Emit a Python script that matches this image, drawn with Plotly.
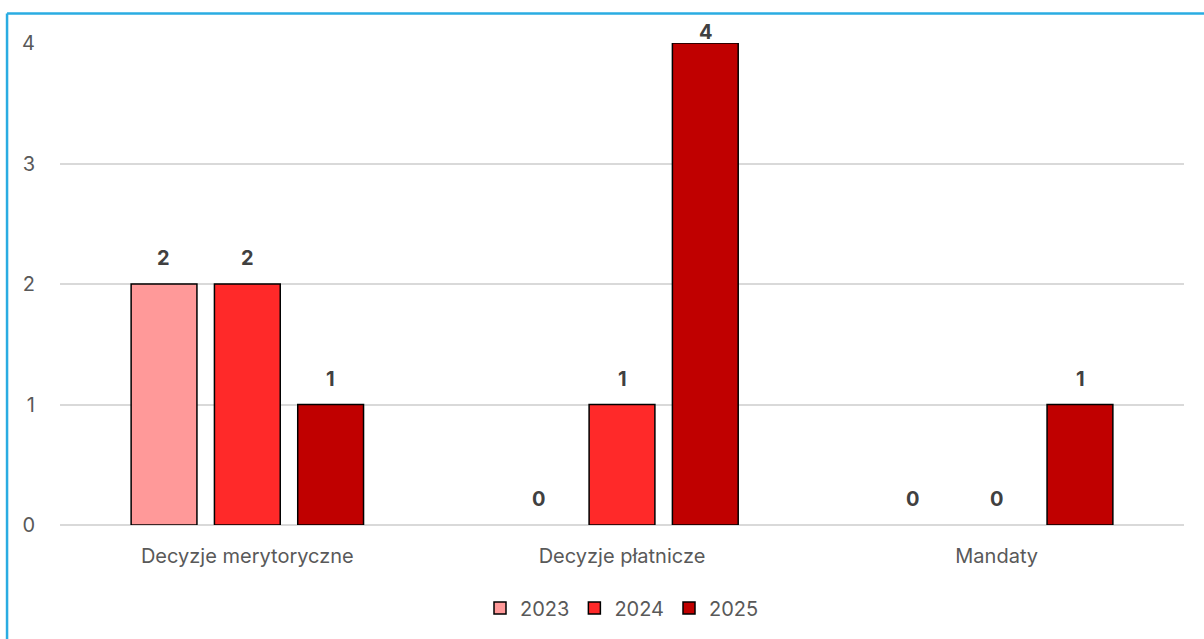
import plotly.graph_objects as go

categories = ["Decyzje merytoryczne", "Decyzje płatnicze", "Mandaty"]
years = ["2023", "2024", "2025"]
values_2023 = [2, 0, 0]
values_2024 = [2, 1, 0]
values_2025 = [1, 4, 1]
colors = ["#FF9999", "#FF2929", "#C00000"]
y_ticks = [0, 1, 2, 3, 4]
y_max = 4

W, H = 1204, 639
ml, mr, mt, mb = 59.5, 19.5, 43, 114
FONT = "Inter"
FS = 20

fig = go.Figure()
series = [values_2023, values_2024, values_2025]
for name, vals, col in zip(years, series, colors):
    fig.add_trace(go.Bar(
        x=categories, y=vals, name=name,
        marker=dict(color=col,
                    line=dict(color="#000000", width=[1.5 if v > 0 else 0 for v in vals])),
        cliponaxis=False,
        offsetgroup=name,
    ))

pw = W - ml - mr
ph = H - mt - mb
unit_px = ph / y_max

# data labels as annotations above each bar (kept inside the chart area at the top)
n = len(years)
for i, (name, vals) in enumerate(zip(years, series)):
    for j, v in enumerate(vals):
        shift = min(26, (y_max - v) * unit_px + 11)
        fig.add_annotation(
            x=categories[j], y=v, text=f"<b>{v}</b>", showarrow=False,
            xshift=(i - (n - 1) / 2) * 83.5, yshift=shift, yanchor="middle",
            font=dict(family=FONT, size=FS, color="#404040"),
        )

def px_x(px):
    return (px - ml) / pw
def px_y(py):
    return (H - mb - py) / ph

fig.add_shape(type="line", xref="paper", yref="paper",
              x0=px_x(6.5), x1=px_x(1210), y0=px_y(13.5), y1=px_y(13.5),
              line=dict(color="#2AACE2", width=2.5))
fig.add_shape(type="line", xref="paper", yref="paper",
              x0=px_x(6.5), x1=px_x(6.5), y0=px_y(13.5), y1=px_y(645),
              line=dict(color="#2AACE2", width=2.5))

fig.update_layout(
    width=W, height=H,
    margin=dict(l=ml, r=mr, t=mt, b=mb, autoexpand=False),
    paper_bgcolor="white", plot_bgcolor="white",
    barmode="group", bargap=0.333, bargroupgap=0.21,
    font=dict(family=FONT, size=FS, color="#595959"),
    showlegend=True,
    legend=dict(orientation="h", x=0.5, xanchor="center", y=px_y(608), yanchor="middle",
                font=dict(family=FONT, size=FS, color="#595959"), itemwidth=30,
                traceorder="normal"),
    xaxis=dict(showgrid=False, showline=False, ticks="outside", ticklen=13,
               tickcolor="rgba(0,0,0,0)", tickfont=dict(size=FS, color="#595959")),
    yaxis=dict(range=[0, y_max], tickvals=y_ticks, showgrid=True, gridcolor="#D9D9D9", gridwidth=1.5,
               zeroline=True, zerolinecolor="#D9D9D9", zerolinewidth=1.5,
               ticks="outside", ticklen=20, tickcolor="rgba(0,0,0,0)",
               tickfont=dict(size=FS, color="#595959")),
)

fig.write_html("out.html", config={"displayModeBar": False},
               post_script="document.body.style.margin='0';document.body.style.overflow='hidden';")
